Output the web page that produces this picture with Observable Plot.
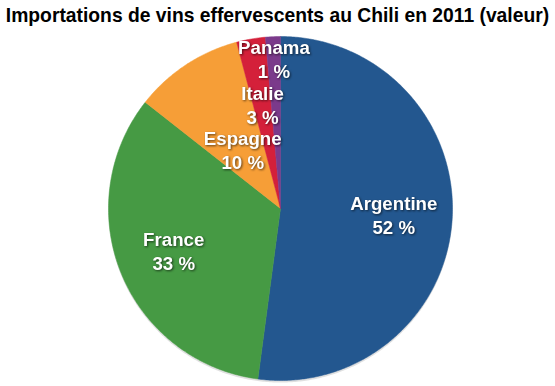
<!DOCTYPE html>
<html>
<head>
<meta charset="utf-8">
<script src="https://cdn.jsdelivr.net/npm/d3@7"></script>
<script src="https://cdn.jsdelivr.net/npm/@observablehq/plot@0.6"></script>
<style>
  html, body { margin: 0; padding: 0; background: #fff; }
  #wrap { position: relative; width: 555px; height: 386px; overflow: hidden; }
  #title { position: absolute; left: 0; top: 5px; width: 555px; text-align: center;
    font-family: "Liberation Sans", Arial, Helvetica, sans-serif; font-weight: bold;
    font-size: 19.3px; color: #000; white-space: nowrap; }
  #chart { position: absolute; left: 0; top: 0; }
  .slicelab text { filter: drop-shadow(1px 1.5px 1.2px rgba(0,0,0,0.6)); }
</style>
</head>
<body>
<div id="wrap">
  <div id="chart"></div>
  <div id="title">Importations de vins effervescents au Chili en 2011 (valeur)</div>
</div>
<script>
// Data
const countries = ["Argentine", "France", "Espagne", "Italie", "Panama"];
const shares = [52.1, 33.5, 10.3, 2.7, 1.4];
const labels = ["52 %", "33 %", "10 %", "3 %", "1 %"];
const colors = ["#23578f", "#469a44", "#f69e37", "#d4203a", "#7b3a8b"];

// Layout (pixels)
const W = 555, H = 386, CX = 280, CY = 208, R = 172;
// label distance from centre, as fraction of radius
const labelRadius = {Argentine: 0.66, France: 0.67, Espagne: 0.40, Italie: 0.605, Panama: 0.865};

const total = d3.sum(shares);
let acc = 0;
const slices = countries.map((name, i) => {
  const a0 = acc / total * 2 * Math.PI;
  acc += shares[i];
  const a1 = acc / total * 2 * Math.PI;
  return {name, value: shares[i], label: labels[i], a0, a1};
});

// polygon points for each slice (unit circle, angle clockwise from top)
const pts = [];
for (const s of slices) {
  pts.push({name: s.name, x: 0, y: 0});
  const n = Math.max(2, Math.ceil((s.a1 - s.a0) / 0.01));
  for (let k = 0; k <= n; k++) {
    const a = s.a0 + (s.a1 - s.a0) * k / n;
    pts.push({name: s.name, x: Math.sin(a), y: Math.cos(a)});
  }
  pts.push({name: s.name, x: 0, y: 0});
}

const lab = slices.map(s => {
  const m = (s.a0 + s.a1) / 2, r = labelRadius[s.name];
  return {name: s.name, label: s.label, x: r * Math.sin(m), y: r * Math.cos(m)};
});

const textStyle = {
  x: "x", y: "y", className: "slicelab",
  fill: "white", fontSize: 18.7, fontWeight: "bold",
  fontFamily: "'Liberation Sans', Arial, Helvetica, sans-serif",
  textAnchor: "middle"
};

const chart = Plot.plot({
  width: W, height: H,
  margin: 0,
  x: {domain: [-CX / R, (W - CX) / R], range: [0, W], axis: null},
  y: {domain: [-(H - CY) / R, CY / R], range: [H, 0], axis: null},
  color: {domain: countries, range: colors},
  style: {background: "white", overflow: "visible"},
  marks: [
    // soft shadow under pie
    Plot.line(pts, {x: d => d.x, y: d => d.y - 0.012, z: "name", fill: "#000", fillOpacity: 0.12, stroke: "none", curve: "linear"}),
    Plot.line(pts, {x: "x", y: "y", z: "name", fill: "name", stroke: "name", strokeWidth: 0.5, curve: "linear"}),
    Plot.text(lab, {...textStyle, text: "name", dy: -12}),
    Plot.text(lab, {...textStyle, text: "label", dy: 12})
  ]
});
document.getElementById("chart").appendChild(chart);
</script>
</body>
</html>
